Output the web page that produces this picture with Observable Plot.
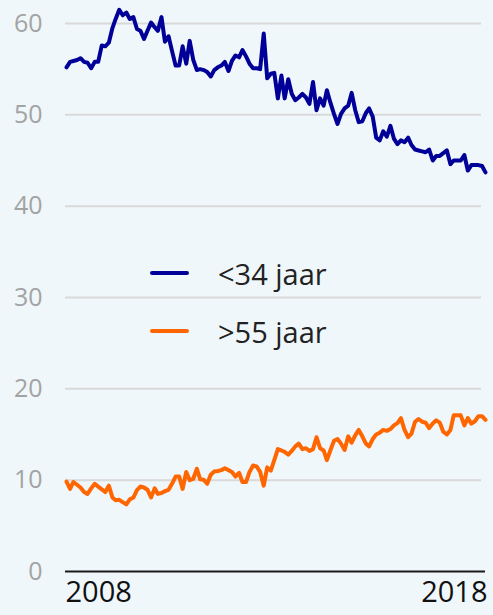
<!DOCTYPE html>
<html>
<head>
<meta charset="utf-8">
<script src="https://cdn.jsdelivr.net/npm/d3@7"></script>
<script src="https://cdn.jsdelivr.net/npm/@observablehq/plot@0.6"></script>
<style>
  html, body { margin: 0; padding: 0; background: #eff7fa; }
  #wrap { position: relative; width: 493px; height: 615px; }
  .legend-row { position: absolute; left: 150px; height: 40px; display: flex; align-items: center;
    font-family: "Open Sans", sans-serif; font-size: 29px; color: #222; }
  .legend-row .sw { width: 39px; height: 4px; border-radius: 2px; margin-right: 29px; }
</style>
</head>
<body>
<div id="wrap"></div>
<script>
// Monthly series, Jan 2008 – Dec 2017
const months = d3.utcMonth.range(new Date(Date.UTC(2008, 0, 1)), new Date(Date.UTC(2018, 0, 1)));

const seriesNames = ["<34 jaar", ">55 jaar"];
const seriesColors = ["#000099", "#ff6600"];

const under34 = [
  55.2, 55.8, 55.9, 56.0, 56.2, 55.8, 55.7, 55.1, 55.8, 55.8,
  57.6, 57.5, 57.9, 59.5, 60.5, 61.5, 60.9, 61.2, 60.5, 60.7,
  59.4, 59.2, 58.3, 59.2, 60.1, 59.6, 59.2, 60.7, 58.0, 58.6,
  57.0, 55.4, 55.4, 57.5, 55.6, 58.1, 56.0, 54.9, 55.0, 54.9,
  54.7, 54.2, 54.9, 55.2, 55.4, 55.8, 54.8, 55.9, 56.5, 56.3,
  57.1, 56.4, 55.6, 55.1, 55.1, 55.0, 58.9, 54.0, 54.5, 54.6,
  51.8, 54.3, 51.8, 53.9, 52.3, 51.6, 51.9, 52.3, 51.9, 51.2,
  53.6, 50.5, 51.8, 51.0, 52.7, 51.3, 50.1, 49.0, 50.1, 50.7,
  51.0, 52.4, 50.5, 49.2, 49.3, 50.2, 50.7, 49.8, 47.5, 47.2,
  48.2, 47.6, 48.8, 47.4, 46.8, 47.2, 47.0, 47.5, 46.7, 46.2,
  46.1, 46.0, 45.9, 46.2, 45.0, 45.5, 45.5, 45.8, 46.1, 44.6,
  45.0, 45.0, 45.0, 45.6, 43.9, 44.5, 44.5, 44.5, 44.4, 43.7
];

const over55 = [
  9.85, 9.05, 9.8, 9.5, 9.2, 8.7, 8.5, 9.1, 9.6, 9.3,
  9.0, 8.7, 9.4, 8.1, 7.8, 7.85, 7.6, 7.35, 7.9, 8.1,
  8.9, 9.3, 9.2, 8.95, 8.1, 9.1, 8.5, 8.6, 8.8, 8.95,
  9.6, 10.4, 10.4, 9.05, 10.9, 10.0, 10.15, 11.25, 10.1, 10.05,
  9.6, 10.6, 10.95, 11.0, 11.1, 11.3, 11.1, 10.9, 10.4, 10.8,
  9.8, 9.8, 10.9, 11.6, 11.5, 10.9, 9.4, 11.4, 11.05, 12.2,
  13.4, 13.25, 13.1, 12.8, 13.2, 13.7, 14.0, 13.4, 13.5, 13.2,
  13.4, 14.7, 13.5, 13.25, 12.2, 13.3, 14.3, 14.5, 14.0, 13.3,
  14.8, 14.1, 14.9, 15.5, 14.8, 14.0, 13.7, 14.5, 15.0, 15.2,
  15.5, 15.4, 15.6, 16.0, 16.25, 16.8, 15.5, 14.7, 15.1, 16.4,
  16.7, 16.4, 16.3, 15.7, 16.2, 16.55, 16.3, 15.3, 15.0, 15.5,
  17.1, 17.1, 17.1, 16.0, 16.8, 16.2, 16.45, 17.0, 17.0, 16.6
];

const yTicks = [0, 10, 20, 30, 40, 50, 60];
const xLabels = ["2008", "2018"];

const dataYoung = months.map((d, i) => ({date: d, value: under34[i]}));
const dataOld = months.map((d, i) => ({date: d, value: over55[i]}));

const chart = Plot.plot({
  width: 493,
  height: 615,
  marginLeft: 66,
  marginRight: 8,
  marginTop: 23,
  marginBottom: 44,
  style: {background: "#eff7fa", fontFamily: "'Open Sans', sans-serif", overflow: "visible"},
  x: {type: "utc", domain: [months[0], months[months.length - 1]], axis: null},
  y: {domain: [0, 60], axis: null},
  marks: [
    Plot.ruleY(yTicks.filter(t => t > 0), {stroke: "#d9d9d9", strokeWidth: 2, insetRight: 4, insetLeft: -1}),
    Plot.ruleY([0], {stroke: "#1a1a1a", strokeWidth: 2, insetLeft: -1}),
    Plot.axisY({ticks: yTicks, tickSize: 0, tickPadding: 24, fontSize: 25, color: "#a3a3a3", label: null}),
    Plot.text([months[0]], {x: d => d, text: () => xLabels[0], frameAnchor: "bottom", textAnchor: "start", dy: 30, dx: -1, fontSize: 29, fill: "#111"}),
    Plot.text([months[months.length - 1]], {x: d => d, text: () => xLabels[1], frameAnchor: "bottom", textAnchor: "end", dy: 30, dx: 2, fontSize: 29, fill: "#111"}),
    Plot.line(dataYoung, {x: "date", y: "value", stroke: seriesColors[0], strokeWidth: 4, strokeLinejoin: "round", strokeLinecap: "round"}),
    Plot.line(dataOld, {x: "date", y: "value", stroke: seriesColors[1], strokeWidth: 4, strokeLinejoin: "round", strokeLinecap: "round"})
  ]
});

const wrap = document.getElementById("wrap");
wrap.appendChild(chart);

// Legend (inside the plot area)
const legendTops = [253, 311];
seriesNames.forEach((name, i) => {
  const row = document.createElement("div");
  row.className = "legend-row";
  row.style.top = legendTops[i] + "px";
  const sw = document.createElement("span");
  sw.className = "sw";
  sw.style.background = seriesColors[i];
  const label = document.createElement("span");
  label.textContent = name;
  row.appendChild(sw);
  row.appendChild(label);
  wrap.appendChild(row);
});
</script>
</body>
</html>
